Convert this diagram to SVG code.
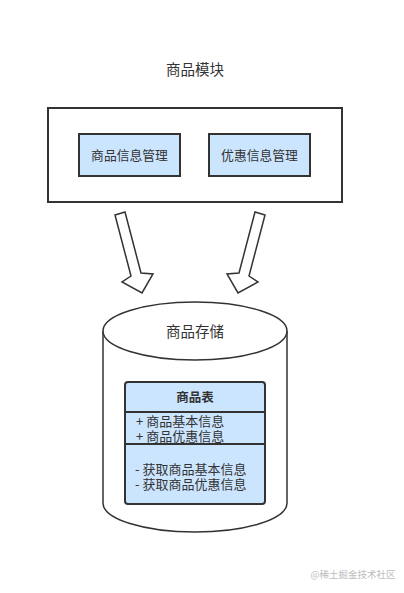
<svg xmlns="http://www.w3.org/2000/svg" width="404" height="593" viewBox="0 0 404 593">
<style>
text{font-family:"Noto Sans CJK SC","Liberation Sans",sans-serif;fill:#333}
.t15{font-size:14.5px}
.t13{font-size:12.8px}
.m13{font-size:13px}
.box{fill:#cce5ff;stroke:#333;stroke-width:2}
.arrow{fill:#fff;stroke:#333;stroke-width:1.5;stroke-linejoin:miter}
</style>
<rect width="404" height="593" fill="#fff"/>
<g id="module">
<text class="t15" x="195" y="75" text-anchor="middle">商品模块</text>
<rect x="48" y="108" width="294" height="94" fill="#fff" stroke="#333" stroke-width="2"/>
</g>
<g id="goods-info">
<rect class="box" x="79" y="134" width="101" height="42"/>
<text class="t13" x="129.5" y="160" text-anchor="middle">商品信息管理</text>
</g>
<g id="promo-info">
<rect class="box" x="209" y="134" width="101" height="42"/>
<text class="t13" x="259.5" y="160" text-anchor="middle">优惠信息管理</text>
</g>
<g id="connectors">
<polygon class="arrow" points="115,215 125,212 141,273 153,274 142,293 122,282 131,276"/>
<polygon class="arrow" points="265,215 255,212 239,273 227,274 238,293 258,282 249,276"/>
</g>
<g id="storage">
<path d="M103,331 L103,503 A92,29 0 0 0 287,503 L287,331" fill="#fff" stroke="#333" stroke-width="1.5"/>
<ellipse cx="195" cy="331" rx="92" ry="29" fill="#fff" stroke="#333" stroke-width="1.5"/>
<text class="t15" x="195" y="337" text-anchor="middle">商品存储</text>
</g>
<g id="table">
<rect x="125" y="382" width="140" height="122" rx="3" fill="#cce5ff" stroke="#333" stroke-width="2"/>
<line x1="125" y1="412" x2="265" y2="412" stroke="#333" stroke-width="2"/>
<line x1="125" y1="444" x2="265" y2="444" stroke="#333" stroke-width="2"/>
<text x="195" y="402" text-anchor="middle" font-size="12.5" font-weight="bold">商品表</text>
<text class="m13" x="136" y="426">+ 商品基本信息</text>
<text class="m13" x="136" y="441">+ 商品优惠信息</text>
<text class="m13" x="135" y="474">- 获取商品基本信息</text>
<text class="m13" x="135" y="488.5">- 获取商品优惠信息</text>
</g>
<text x="353" y="578" text-anchor="middle" font-size="9.5" style="fill:#bbb">@稀土掘金技术社区</text>
</svg>
